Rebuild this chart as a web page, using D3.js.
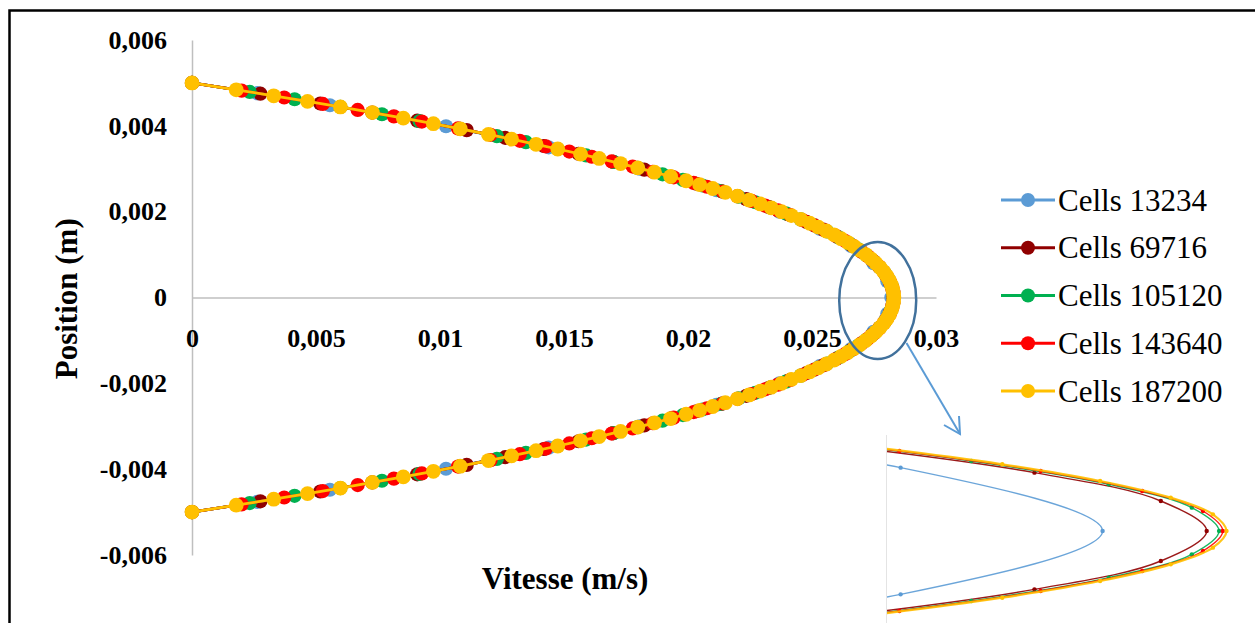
<!DOCTYPE html>
<html>
<head>
<meta charset="utf-8">
<script src="https://cdn.jsdelivr.net/npm/d3@7"></script>
<style>
body { margin: 0; background: #fff; }
svg { display: block; }
text { font-family: "Liberation Serif", "Times New Roman", serif; }
</style>
</head>
<body>
<div id="my_dataviz"></div>
<script>
// Tick values and labels
var xTicks = [0, 0.005, 0.01, 0.015, 0.02, 0.025, 0.03];
var xTickLabels = ["0", "0,005", "0,01", "0,015", "0,02", "0,025", "0,03"];
var yTicks = [0.006, 0.004, 0.002, 0, -0.002, -0.004, -0.006];
var yTickLabels = ["0,006", "0,004", "0,002", "0", "-0,002", "-0,004", "-0,006"];

// Series names
var seriesNames = ["Cells 13234", "Cells 69716", "Cells 105120", "Cells 143640", "Cells 187200"];

// Cells 13234 : position (m) / vitesse (m/s)
var pos13234 = [0.005, 0.00476, 0.00448, 0.00399, 0.0035, 0.003, 0.0025, 0.002, 0.0016, 0.0012, 0.0008, 0.00038, 0,
  -0.00038, -0.0008, -0.0012, -0.0016, -0.002, -0.0025, -0.003, -0.0035, -0.00399, -0.00448, -0.00476, -0.005];
var vel13234 = [0, 0.002642, 0.00556, 0.010242, 0.014382, 0.018048, 0.02115, 0.023688, 0.025312, 0.026576, 0.027478, 0.028037, 0.0282,
  0.028037, 0.027478, 0.026576, 0.025312, 0.023688, 0.02115, 0.018048, 0.014382, 0.010242, 0.00556, 0.002642, 0];

// Cells 69716
var pos69716 = [0.005, 0.00475, 0.00452, 0.00431, 0.00412, 0.0039, 0.00372, 0.00353, 0.00335, 0.00316, 0.00298, 0.00281, 0.00265, 0.00247,
  0.00229, 0.00211, 0.00194, 0.00176, 0.00158, 0.00141, 0.00123, 0.00106, 0.00088, 0.00071, 0.00053, 0.00035, 0.00018, 0,
  -0.00018, -0.00035, -0.00053, -0.00071, -0.00088, -0.00106, -0.00123, -0.00141, -0.00158, -0.00176, -0.00194, -0.00211, -0.00229,
  -0.00247, -0.00265, -0.00281, -0.00298, -0.00316, -0.00335, -0.00353, -0.00372, -0.0039, -0.00412, -0.00431, -0.00452, -0.00475, -0.005];
var vel69716 = [0, 0.002758, 0.00517, 0.007268, 0.00908, 0.011076, 0.012628, 0.014186, 0.015587, 0.016987, 0.018237, 0.019351, 0.020339, 0.021382,
  0.022351, 0.023247, 0.024026, 0.02478, 0.02546, 0.026035, 0.026572, 0.027013, 0.027408, 0.027714, 0.027966, 0.028145, 0.028247, 0.028284,
  0.028247, 0.028145, 0.027966, 0.027714, 0.027408, 0.027013, 0.026572, 0.026035, 0.02546, 0.02478, 0.024026, 0.023247, 0.022351,
  0.021382, 0.020339, 0.019351, 0.018237, 0.016987, 0.015587, 0.014186, 0.012628, 0.011076, 0.00908, 0.007268, 0.00517, 0.002758, 0];

// Cells 105120
var pos105120 = [0.005, 0.00479, 0.00462, 0.00444, 0.00427, 0.00411, 0.00393, 0.00376, 0.00362, 0.00346, 0.00331, 0.00316, 0.00302, 0.00287,
  0.00274, 0.00261, 0.00248, 0.00235, 0.00222, 0.00209, 0.00196, 0.00182, 0.00168, 0.00154, 0.0014, 0.00126, 0.00112, 0.00098, 0.00084,
  0.0007, 0.00056, 0.00042, 0.00028, 0.00014, 0,
  -0.00014, -0.00028, -0.00042, -0.00056, -0.0007, -0.00084, -0.00098, -0.00112, -0.00126, -0.0014, -0.00154, -0.00168, -0.00182,
  -0.00196, -0.00209, -0.00222, -0.00235, -0.00248, -0.00261, -0.00274, -0.00287, -0.00302, -0.00316, -0.00331, -0.00346, -0.00362,
  -0.00376, -0.00393, -0.00411, -0.00427, -0.00444, -0.00462, -0.00479, -0.005];
var vel105120 = [0, 0.002327, 0.004137, 0.005983, 0.007659, 0.009176, 0.010814, 0.012294, 0.013463, 0.014745, 0.015894, 0.016993, 0.017972, 0.018972,
  0.019797, 0.020584, 0.021333, 0.022044, 0.022716, 0.023351, 0.023946, 0.024545, 0.025099, 0.02561, 0.026076, 0.026497, 0.026874, 0.027207, 0.027496,
  0.027739, 0.027939, 0.028094, 0.028205, 0.028272, 0.028294,
  0.028272, 0.028205, 0.028094, 0.027939, 0.027739, 0.027496, 0.027207, 0.026874, 0.026497, 0.026076, 0.02561, 0.025099, 0.024545,
  0.023946, 0.023351, 0.022716, 0.022044, 0.021333, 0.020584, 0.019797, 0.018972, 0.017972, 0.016993, 0.015894, 0.014745, 0.013463,
  0.012294, 0.010814, 0.009176, 0.007659, 0.005983, 0.004137, 0.002327, 0];

// Cells 143640
var pos143640 = [0.005, 0.00482, 0.00466, 0.00451, 0.00437, 0.00422, 0.0041, 0.00394, 0.00379, 0.00365, 0.00352, 0.0034, 0.00328, 0.00317,
  0.00305, 0.00293, 0.0028, 0.00267, 0.00258, 0.00247, 0.00236, 0.00225, 0.00214, 0.00203, 0.00192, 0.0018, 0.00168, 0.00156, 0.00144,
  0.00132, 0.0012, 0.00108, 0.00096, 0.00084, 0.00072, 0.0006, 0.00048, 0.00036, 0.00024, 0.00012, 0,
  -0.00012, -0.00024, -0.00036, -0.00048, -0.0006, -0.00072, -0.00084, -0.00096, -0.00108, -0.0012, -0.00132, -0.00144, -0.00156,
  -0.00168, -0.0018, -0.00192, -0.00203, -0.00214, -0.00225, -0.00236, -0.00247, -0.00258, -0.00267, -0.0028, -0.00293, -0.00305,
  -0.00317, -0.00328, -0.0034, -0.00352, -0.00365, -0.00379, -0.00394, -0.0041, -0.00422, -0.00437, -0.00451, -0.00466, -0.00482, -0.005];
var vel143640 = [0, 0.002001, 0.003718, 0.005275, 0.006681, 0.00814, 0.00927, 0.010726, 0.012039, 0.013218, 0.014272, 0.015212, 0.01612, 0.016923,
  0.017768, 0.01858, 0.019423, 0.020228, 0.020763, 0.021391, 0.021993, 0.022567, 0.023114, 0.023633, 0.024124, 0.02463, 0.025102, 0.025543, 0.02595,
  0.026325, 0.026667, 0.026977, 0.027254, 0.027499, 0.02771, 0.02789, 0.028036, 0.02815, 0.028232, 0.028281, 0.028297,
  0.028281, 0.028232, 0.02815, 0.028036, 0.02789, 0.02771, 0.027499, 0.027254, 0.026977, 0.026667, 0.026325, 0.02595, 0.025543,
  0.025102, 0.02463, 0.024124, 0.023633, 0.023114, 0.022567, 0.021993, 0.021391, 0.020763, 0.020228, 0.019423, 0.01858, 0.017768,
  0.016923, 0.01612, 0.015212, 0.014272, 0.013218, 0.012039, 0.010726, 0.00927, 0.00814, 0.006681, 0.005275, 0.003718, 0.002001, 0];

// Cells 187200
var pos187200 = [0.005, 0.00484, 0.0047, 0.00457, 0.00444, 0.00431, 0.00418, 0.00405, 0.00393, 0.0038, 0.00369, 0.00357, 0.00346, 0.00334,
  0.00324, 0.00312, 0.00302, 0.00292, 0.00282, 0.00272, 0.00263, 0.00254, 0.00245, 0.00236, 0.00227, 0.00218, 0.00209, 0.002, 0.00191,
  0.00182, 0.00173, 0.00164, 0.00155, 0.00146, 0.00137, 0.00128, 0.00119, 0.0011, 0.001, 0.0009, 0.0008, 0.0007, 0.0006, 0.0005, 0.0004,
  0.0003, 0.0002, 0.0001, 0,
  -0.0001, -0.0002, -0.0003, -0.0004, -0.0005, -0.0006, -0.0007, -0.0008, -0.0009, -0.001, -0.0011, -0.00119, -0.00128, -0.00137,
  -0.00146, -0.00155, -0.00164, -0.00173, -0.00182, -0.00191, -0.002, -0.00209, -0.00218, -0.00227, -0.00236, -0.00245, -0.00254,
  -0.00263, -0.00272, -0.00282, -0.00292, -0.00302, -0.00312, -0.00324, -0.00334, -0.00346, -0.00357, -0.00369, -0.0038, -0.00393,
  -0.00405, -0.00418, -0.00431, -0.00444, -0.00457, -0.0047, -0.00484, -0.005];
var vel187200 = [0, 0.001782, 0.003294, 0.004658, 0.005984, 0.007272, 0.008521, 0.009732, 0.010816, 0.011954, 0.012887, 0.013873, 0.014748, 0.015672,
  0.016417, 0.017281, 0.017976, 0.018648, 0.019298, 0.019925, 0.02047, 0.020997, 0.021505, 0.021995, 0.022467, 0.02292, 0.023355, 0.023772, 0.02417,
  0.02455, 0.024912, 0.025255, 0.02558, 0.025887, 0.026175, 0.026445, 0.026697, 0.02693, 0.027168, 0.027383, 0.027576, 0.027745, 0.027892, 0.028017, 0.028119,
  0.028198, 0.028255, 0.028289, 0.0283,
  0.028289, 0.028255, 0.028198, 0.028119, 0.028017, 0.027892, 0.027745, 0.027576, 0.027383, 0.027168, 0.02693, 0.026697, 0.026445, 0.026175,
  0.025887, 0.02558, 0.025255, 0.024912, 0.02455, 0.02417, 0.023772, 0.023355, 0.02292, 0.022467, 0.021995, 0.021505, 0.020997,
  0.02047, 0.019925, 0.019298, 0.018648, 0.017976, 0.017281, 0.016417, 0.015672, 0.014748, 0.013873, 0.012887, 0.011954, 0.010816,
  0.009732, 0.008521, 0.007272, 0.005984, 0.004658, 0.003294, 0.001782, 0];

var colors = ["#5B9BD5", "#900000", "#00B050", "#FF0000", "#FFC000"];

var series = [
  {name: seriesNames[0], color: colors[0], pos: pos13234, vel: vel13234},
  {name: seriesNames[1], color: colors[1], pos: pos69716, vel: vel69716},
  {name: seriesNames[2], color: colors[2], pos: pos105120, vel: vel105120},
  {name: seriesNames[3], color: colors[3], pos: pos143640, vel: vel143640},
  {name: seriesNames[4], color: colors[4], pos: pos187200, vel: vel187200}
];
series.forEach(function(s) {
  s.points = s.pos.map(function(p, i) { return {p: p, v: s.vel[i]}; });
});

var serif = "'Liberation Serif', 'Times New Roman', serif";
var width = 1255, height = 623;

var svg = d3.select("#my_dataviz")
  .append("svg")
  .attr("width", width)
  .attr("height", height);

// Outer frame (only top and left edges are inside the picture)
svg.append("path")
  .attr("d", "M9.5,623V10.5H1255")
  .attr("fill", "none")
  .attr("stroke", "#000")
  .attr("stroke-width", 2.5);

// Scales
var x = d3.scaleLinear().domain([0, 0.03]).range([192, 936]);
var y = d3.scaleLinear().domain([-0.006, 0.006]).range([555, 40]);

// Y axis
svg.append("g")
  .attr("transform", "translate(" + x(0) + ",0)")
  .call(d3.axisLeft(y).tickValues(yTicks)
    .tickFormat(function(d, i) { return yTickLabels[i]; })
    .tickSize(0).tickPadding(25));

// X axis (crosses at 0)
svg.append("g")
  .attr("transform", "translate(0," + y(0) + ")")
  .call(d3.axisBottom(x).tickValues(xTicks)
    .tickFormat(function(d, i) { return xTickLabels[i]; })
    .tickSize(0).tickPadding(31));

svg.selectAll(".domain").attr("stroke", "#BFBFBF").attr("stroke-width", 1.5);
svg.selectAll(".tick text")
  .attr("font-family", serif)
  .attr("font-size", 26)
  .attr("font-weight", "bold")
  .attr("fill", "#000");

// Axis titles
svg.append("text")
  .attr("transform", "translate(77," + y(-0.00003) + ") rotate(-90)")
  .attr("text-anchor", "middle")
  .attr("font-family", serif)
  .attr("font-size", 31)
  .attr("font-weight", "bold")
  .text("Position (m)");

svg.append("text")
  .attr("x", 565)
  .attr("y", 589)
  .attr("text-anchor", "middle")
  .attr("font-family", serif)
  .attr("font-size", 31)
  .attr("font-weight", "bold")
  .text("Vitesse (m/s)");

// Series lines and markers
var line = d3.line()
  .x(function(d) { return x(d.v); })
  .y(function(d) { return y(d.p); });

series.forEach(function(s, k) {
  var g = svg.append("g");
  g.append("path")
    .datum(s.points)
    .attr("d", line)
    .attr("fill", "none")
    .attr("stroke", s.color)
    .attr("stroke-width", 2.75);
  g.selectAll("circle")
    .data(s.points)
    .enter().append("circle")
    .attr("cx", function(d) { return x(d.v); })
    .attr("cy", function(d) { return y(d.p); })
    .attr("r", k == 4 ? 7.4 : 7.1)
    .attr("fill", s.color);
});

// Ellipse round the peak
svg.append("ellipse")
  .attr("cx", x(0.02765))
  .attr("cy", y(-0.00007))
  .attr("rx", 38.5)
  .attr("ry", 58.5)
  .attr("fill", "none")
  .attr("stroke", "#41719C")
  .attr("stroke-width", 2.5);

// Arrow to the zoomed view
var a0 = [906.5, 343], a1 = [960, 434];
svg.append("line")
  .attr("x1", a0[0]).attr("y1", a0[1])
  .attr("x2", a1[0]).attr("y2", a1[1])
  .attr("stroke", "#5B9BD5")
  .attr("stroke-width", 2);
svg.append("path")
  .attr("d", "M944,425L" + a1[0] + "," + a1[1] + "L959,416")
  .attr("fill", "none")
  .attr("stroke", "#5B9BD5")
  .attr("stroke-width", 2);

// Zoomed view of the peak
var ix = d3.scaleLinear().domain([0.028026, 0.028323]).range([887, 1255]);
var iy = d3.scaleLinear().domain([-0.00055, 0.00055]).range([622.7, 439.3]);

svg.append("clipPath").attr("id", "insetClip")
  .append("rect").attr("x", 887).attr("y", 435).attr("width", 368).attr("height", 188);

svg.append("line")
  .attr("x1", 886.5).attr("y1", 435).attr("x2", 886.5).attr("y2", 623)
  .attr("stroke", "#E4E4E4").attr("stroke-width", 1);

var inset = svg.append("g").attr("clip-path", "url(#insetClip)");
var iline = d3.line()
  .curve(d3.curveCatmullRom.alpha(0.5))
  .x(function(d) { return ix(d.v); })
  .y(function(d) { return iy(d.p); });

series.forEach(function(s, k) {
  inset.append("path")
    .datum(s.points)
    .attr("d", iline)
    .attr("fill", "none")
    .attr("stroke", s.color)
    .attr("stroke-width", k == 4 ? 2.2 : 1.4)
    .attr("opacity", 0.9);
  inset.selectAll(".m" + k)
    .data(s.points)
    .enter().append("circle")
    .attr("cx", function(d) { return ix(d.v); })
    .attr("cy", function(d) { return iy(d.p); })
    .attr("r", 2.2)
    .attr("fill", s.color);
});

// Legend
var legend = svg.selectAll(".legend")
  .data(series)
  .enter().append("g")
  .attr("transform", function(d, i) { return "translate(1001," + (200 + i * 47.75) + ")"; });

legend.append("line")
  .attr("x1", 0).attr("x2", 54)
  .attr("y1", 0).attr("y2", 0)
  .attr("stroke", function(d) { return d.color; })
  .attr("stroke-width", 3);

legend.append("circle")
  .attr("cx", 27).attr("cy", 0).attr("r", 7)
  .attr("fill", function(d) { return d.color; });

legend.append("text")
  .attr("x", 57)
  .attr("y", 10.5)
  .attr("font-family", serif)
  .attr("font-size", 31)
  .text(function(d) { return d.name; });
</script>
</body>
</html>
